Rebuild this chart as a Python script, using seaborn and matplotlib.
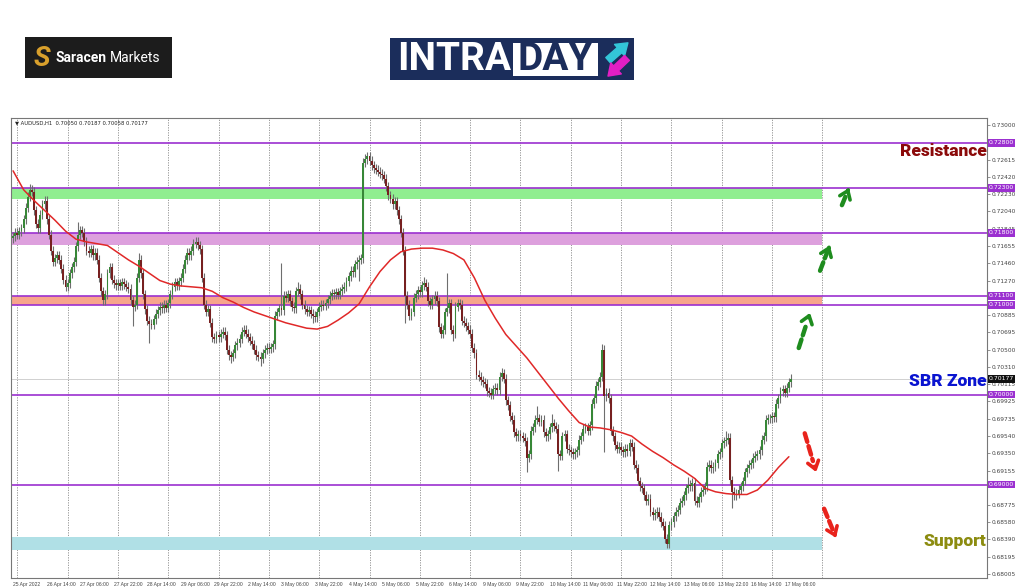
import numpy as np
import pandas as pd
import matplotlib
matplotlib.use('Agg')
import matplotlib.pyplot as plt
import matplotlib.transforms as mtransforms
from matplotlib.patches import Rectangle, FancyArrowPatch
import seaborn as sns

sns.set_style('white')
plt.rcParams['font.family'] = ['DejaVu Sans']

# AUDUSD H1 closes, in pips above 0.70000, first bar = 25 Apr 22:00
closes = [
    176, 180, 178, 182, 185, 195, 208, 220, 228, 226,
    205, 190, 185, 200, 212, 216, 195, 178, 160, 148,
    152, 155, 150, 140, 128, 120, 124, 135, 142, 148,
    165, 178, 183, 180, 170, 160, 158, 162, 155, 158,
    150, 130, 115, 105, 112, 135, 142, 128, 124, 122,
    124, 121, 125, 123, 120, 118, 105, 98, 100, 130,
    150, 135, 112, 95, 82, 79, 78, 84, 90, 94,
    98, 96, 100, 97, 102, 112, 120, 125, 122, 126,
    130, 140, 150, 158, 155, 160, 168, 170, 166, 162,
    130, 100, 92, 95, 80, 64, 62, 66, 64, 68,
    70, 66, 50, 44, 42, 46, 55, 58, 62, 70,
    72, 68, 64, 60, 56, 50, 44, 42, 40, 46,
    50, 52, 51, 53, 56, 88, 92, 96, 94, 110,
    108, 112, 104, 98, 96, 115, 118, 112, 100, 95,
    92, 94, 90, 88, 86, 92, 98, 100, 99, 102,
    106, 110, 113, 112, 114, 111, 115, 118, 120, 126,
    132, 138, 136, 145, 148, 150, 152, 258, 262, 265,
    260, 255, 252, 250, 248, 246, 244, 240, 232, 222,
    218, 212, 215, 205, 195, 180, 160, 110, 100, 88,
    92, 108, 112, 116, 114, 122, 124, 120, 104, 100,
    106, 110, 104, 75, 68, 72, 92, 96, 102, 72,
    68, 98, 102, 100, 82, 80, 76, 72, 68, 52,
    46, 22, 20, 16, 14, 12, 4, 2, 0, 6,
    8, 5, 20, 24, 18, -6, -12, -24, -28, -42,
    -46, -44, -46, -48, -52, -70, -66, -40, -36, -28,
    -26, -30, -28, -42, -46, -44, -36, -32, -35, -38,
    -66, -68, -46, -44, -60, -62, -64, -66, -64, -62,
    -50, -46, -38, -36, -40, -34, -10, -4, 10, 14,
    20, 50, -2, 2, -4, -40, -46, -56, -60, -58,
    -62, -64, -60, -63, -54, -58, -78, -82, -96, -102,
    -104, -112, -118, -116, -130, -134, -132, -130, -136, -142,
    -146, -160, -166, -145, -142, -135, -130, -128, -120, -118,
    -112, -104, -100, -102, -98, -118, -120, -114, -108, -106,
    -102, -80, -78, -82, -80, -76, -66, -64, -54, -52,
    -50, -48, -95, -108, -112, -110, -106, -102, -96, -86,
    -82, -78, -76, -70, -68, -66, -62, -50, -46, -28,
    -26, -26, -24, -25, -10, -4, 4, 6, 2, 8,
    14, 18,
]
first_open = 174
# visible long wicks {bar: pips}
high_spikes = {8: 234, 31: 192, 60: 158, 128: 147, 136: 125, 168: 268, 196: 131,
               207: 135, 233: 30, 250: -13, 257: -22, 281: 56, 322: -92, 340: -40}
low_spikes = {57: 76, 65: 57, 104: 35, 118: 32, 143: 80, 165: 127, 187: 80, 210: 60,
              245: -86, 260: -85, 282: -64, 312: -171, 343: -126}
wick_pad = 5

# moving average, every 5 bars
ma_bars = list(range(0, 371, 5))
ma_pips = [249, 228, 216, 205, 194, 182, 173, 170, 168, 166,
           158, 150, 143, 135, 127, 123, 121, 120, 119, 115,
           108, 103, 97, 92, 88, 84, 80, 77, 74, 73,
           76, 83, 91, 101, 120, 137, 150, 159, 162, 163,
           163, 161, 157, 150, 130, 105, 85, 67, 54, 41,
           26, 11, -4, -18, -31, -36, -37, -39, -42, -46,
           -55, -63, -70, -78, -85, -93, -104, -108, -110, -111,
           -111, -106, -95, -81, -69]

tick_bars = list(range(0, 369, 16))
tick_labels = ['25 Apr 2022', '26 Apr 14:00', '27 Apr 06:00', '27 Apr 22:00', '28 Apr 14:00',
               '29 Apr 06:00', '29 Apr 22:00', '2 May 14:00', '3 May 06:00', '3 May 22:00',
               '4 May 14:00', '5 May 06:00', '5 May 22:00', '6 May 14:00', '9 May 06:00',
               '9 May 22:00', '10 May 14:00', '11 May 06:00', '11 May 22:00', '12 May 14:00',
               '13 May 06:00', '13 May 22:00', '16 May 14:00', '17 May 06:00']
day_lines = list(range(2, 387, 24))

price_ticks = [0.73000, 0.72615, 0.72420, 0.72230, 0.72040, 0.71845, 0.71655, 0.71460,
               0.71270, 0.70885, 0.70695, 0.70500, 0.70310, 0.70115, 0.69925, 0.69735,
               0.69540, 0.69350, 0.69155, 0.68775, 0.68580, 0.68390, 0.68195, 0.68005]
level_lines = [0.7280, 0.7230, 0.7180, 0.7110, 0.7100, 0.7000, 0.6900]
zone_lo = [0.7218, 0.7167, 0.7100, 0.6827]
zone_hi = [0.7230, 0.7180, 0.7110, 0.6842]
zone_colors = ['#90ee90', '#dda0dd', '#f7a58c', '#b0e0e6']
last_price = 0.70177
zone_end = 386

# arrows (bar, pips) tail -> head
up_arrows = [((374.3, 49), (380.5, 94)), ((384.4, 135), (390.0, 169)), ((394.8, 208), (398.7, 230))]
down_arrows = [((377.2, -40), (383.4, -89)), ((386.3, -124), (393.0, -162))]

# build OHLC
df = pd.DataFrame({'bar': np.arange(len(closes)), 'close': closes})
df['open'] = [first_open] + closes[:-1]
df['high'] = df[['open', 'close']].max(axis=1) + wick_pad
df['low'] = df[['open', 'close']].min(axis=1) - wick_pad
for b, v in high_spikes.items():
    df.loc[b, 'high'] = v
for b, v in low_spikes.items():
    df.loc[b, 'low'] = v
for c in ['open', 'high', 'low', 'close']:
    df[c] = 0.70 + df[c] / 10000.0

fig = plt.figure(figsize=(10.24, 5.87), dpi=100)
ax = fig.add_axes([11 / 1024, 9 / 587, 976 / 1024, 460 / 587])
ax.set_xlim(-1, 464.5)
ax.set_ylim(0.67961, 0.73078)

for b in day_lines:
    ax.axvline(b, color='#8a8a8a', ls=(0, (1.5, 1.5)), lw=0.6, zorder=0)

for lo, hi, c in zip(zone_lo, zone_hi, zone_colors):
    ax.fill_between([-1, zone_end], lo, hi, color=c, lw=0, zorder=1)

ax.axhline(last_price, color='#d0d0d0', lw=0.7, zorder=1)
for y in level_lines:
    ax.axhline(y, color='#9b30d0', lw=1.2, zorder=2)

# candles
ax.vlines(df['bar'], df['low'], df['high'], color='#6e6e6e', lw=0.8, zorder=3)
bull = df['close'] >= df['open']
body_lo = df[['open', 'close']].min(axis=1)
body_h = (df['close'] - df['open']).abs().clip(lower=0.00004)
ax.bar(df['bar'], body_h, bottom=body_lo, width=0.9,
       color=np.where(bull, '#378737', '#772020'), lw=0, zorder=3)

sns.lineplot(x=ma_bars, y=0.70 + np.array(ma_pips) / 10000.0, ax=ax,
             color='#e02828', lw=1.1, zorder=4)

for (t, h), col in [(a, '#1e8c1e') for a in up_arrows] + [(a, '#e8231c') for a in down_arrows]:
    tp = (t[0], 0.70 + t[1] / 10000.0)
    hp = (h[0], 0.70 + h[1] / 10000.0)
    mid = (tp[0] + 0.75 * (hp[0] - tp[0]), tp[1] + 0.75 * (hp[1] - tp[1]))
    ax.annotate('', xy=mid, xytext=tp,
                arrowprops=dict(arrowstyle='-', color=col, lw=3.2, ls=(0, (2.0, 1.0))), zorder=5)
    ax.annotate('', xy=hp, xytext=mid,
                arrowprops=dict(arrowstyle='->,head_length=0.55,head_width=0.4', color=col, lw=2.6),
                zorder=5)

# axes styling
ax.set_xticks(tick_bars)
ax.set_xticklabels(tick_labels, fontsize=3.6, ha='left', color='#444',
                   family=['Liberation Sans', 'DejaVu Sans'])
ax.yaxis.tick_right()
ax.set_yticks(price_ticks)
ax.set_yticklabels([f'{p:.5f}' for p in price_ticks], fontsize=4.2, color='#444')
ax.tick_params(axis='x', length=2, pad=1, width=0.5, colors='#666', labelcolor='#444')
ax.tick_params(axis='y', length=2, pad=1.5, width=0.5, colors='#666', labelcolor='#444')
for s in ax.spines.values():
    s.set_color('#777')
    s.set_linewidth(0.8)
ax.set_xlabel('')
ax.set_ylabel('')

trans = mtransforms.blended_transform_factory(ax.transAxes, ax.transData)
for y in level_lines:
    ax.text(1.002, y, f'{y:.5f}', transform=trans, fontsize=4.4, color='white', va='center', ha='left',
            bbox=dict(boxstyle='square,pad=0.2', fc='#9b30d0', ec='none'), zorder=10, clip_on=False)
ax.text(1.002, last_price, f'{last_price:.5f}', transform=trans, fontsize=4.4, color='white',
        va='center', ha='left', bbox=dict(boxstyle='square,pad=0.2', fc='#111', ec='none'),
        zorder=10, clip_on=False)

ax.text(0.004, 0.994, '\u25bc AUDUSD,H1  0.70050 0.70187 0.70058 0.70177', transform=ax.transAxes,
        fontsize=3.8, va='top', ha='left', color='#222')

ax.text(0.9995, 0.72711, 'Resistance', transform=trans, ha='right', va='center', fontsize=12.5,
        fontweight='black', color='#8b0a0a', family=['Roboto', 'DejaVu Sans'], zorder=6)
ax.text(0.9995, 0.70153, 'SBR Zone', transform=trans, ha='right', va='center', fontsize=12.5,
        fontweight='black', color='#0a14d0', family=['Roboto', 'DejaVu Sans'], zorder=6)
ax.text(0.9995, 0.68373, 'Support', transform=trans, ha='right', va='center', fontsize=12.5,
        fontweight='black', color='#8c8c10', family=['Roboto', 'DejaVu Sans'], zorder=6)


# header logos
def fx(px):
    return px / 1024


def fy(py):
    return 1 - py / 587


fig.patches.append(Rectangle((fx(25), fy(78)), fx(172) - fx(25), fy(37) - fy(78),
                             transform=fig.transFigure, fc='#1c1c1c', ec='none'))
fig.text(fx(42), fy(58), 'S', fontsize=20, fontweight='bold', style='italic', color='#d9a02c',
         ha='center', va='center', family=['Roboto', 'DejaVu Sans'])
fig.text(fx(55), fy(58), 'Saracen', fontsize=10, fontweight='bold', color='white',
         ha='left', va='center', family=['Roboto', 'DejaVu Sans'])
fig.text(fx(110), fy(58), 'Markets', fontsize=10, color='white',
         ha='left', va='center', family=['Roboto', 'DejaVu Sans'])

fig.patches.append(Rectangle((fx(390), fy(80)), fx(634) - fx(390), fy(38) - fy(80),
                             transform=fig.transFigure, fc='#1b2d5b', ec='none'))
fig.patches.append(Rectangle((fx(513), fy(76)), fx(598) - fx(513), fy(43) - fy(76),
                             transform=fig.transFigure, fc='white', ec='none'))
fig.text(fx(397), fy(60), 'INTRA', fontsize=28, fontweight='bold', color='white',
         ha='left', va='center', family=['Roboto', 'DejaVu Sans'])
fig.text(fx(555.5), fy(60), 'DAY', fontsize=28, fontweight='bold', color='#1b2d5b',
         ha='center', va='center', family=['Roboto', 'DejaVu Sans'])
fig.patches.append(FancyArrowPatch((fx(606), fy(62)), (fx(630), fy(41)), transform=fig.transFigure,
                                   arrowstyle='simple,head_length=8,head_width=11,tail_width=5',
                                   color='#33c6d8'))
fig.patches.append(FancyArrowPatch((fx(629), fy(56)), (fx(606), fy(78)), transform=fig.transFigure,
                                   arrowstyle='simple,head_length=8,head_width=11,tail_width=5',
                                   color='#e21fc4'))

fig.savefig('out.png', dpi=100, facecolor='white')
